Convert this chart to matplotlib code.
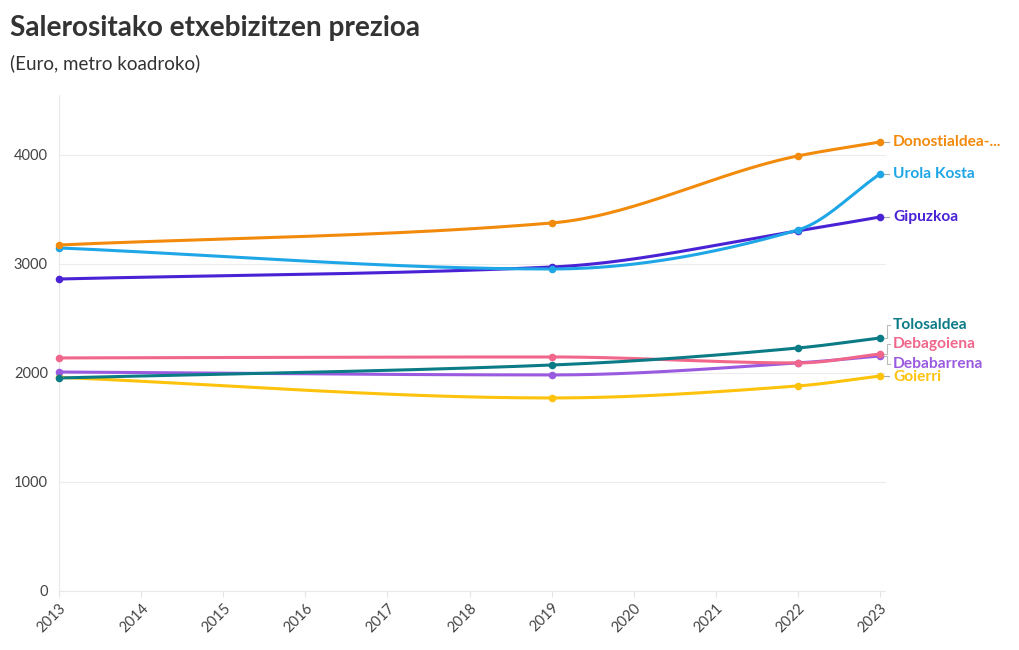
import numpy as np
import matplotlib.pyplot as plt

plt.rcParams['font.family'] = ['Lato', 'DejaVu Sans']

years = [2013, 2019, 2022, 2023]
series_names = ["Donostialdea-...", "Urola Kosta", "Gipuzkoa", "Tolosaldea",
                "Debagoiena", "Debabarrena", "Goierri"]
donostialdea = [3174, 3376, 3991, 4119]
urola_kosta = [3147, 2954, 3312, 3826]
gipuzkoa = [2862, 2972, 3303, 3431]
tolosaldea = [1954, 2073, 2229, 2321]
debagoiena = [2138, 2147, 2092, 2174]
debabarrena = [2009, 1982, 2092, 2156]
goierri = [1960, 1771, 1881, 1972]
colors = ["#f28a0c", "#1fa6e6", "#4a22d6", "#0b7b86", "#f0678b", "#9a5ae0", "#fdc20b"]
label_y = [4119, 3826, 3431, 2440, 2266, 2083, 1963]


def monotone(x, y, n=200):
    # Fritsch-Carlson monotone cubic, only for drawing a smooth path
    x = np.asarray(x, float)
    y = np.asarray(y, float)
    h = np.diff(x)
    d = np.diff(y) / h
    m = np.zeros_like(y)
    m[0], m[-1] = d[0], d[-1]
    for i in range(1, len(y) - 1):
        if d[i - 1] * d[i] <= 0:
            m[i] = 0
        else:
            w1 = 2 * h[i] + h[i - 1]
            w2 = h[i] + 2 * h[i - 1]
            m[i] = (w1 + w2) / (w1 / d[i - 1] + w2 / d[i])
    xs = np.linspace(x[0], x[-1], n)
    ys = np.empty_like(xs)
    for j, xv in enumerate(xs):
        i = min(np.searchsorted(x, xv, side='right') - 1, len(x) - 2)
        t = (xv - x[i]) / h[i]
        h00 = 2 * t**3 - 3 * t**2 + 1
        h10 = t**3 - 2 * t**2 + t
        h01 = -2 * t**3 + 3 * t**2
        h11 = t**3 - t**2
        ys[j] = h00 * y[i] + h10 * h[i] * m[i] + h01 * y[i + 1] + h11 * h[i] * m[i + 1]
    return xs, ys


fig = plt.figure(figsize=(10.2, 6.5), dpi=100)
ax = fig.add_axes([59 / 1020, 59 / 650, (880 - 59) / 1020, (591 - 95) / 650])

data = [donostialdea, urola_kosta, gipuzkoa, tolosaldea, debagoiena, debabarrena, goierri]
order = [6, 5, 4, 3, 2, 1, 0]
for i in order:
    xs, ys = monotone(years, data[i])
    ax.plot(xs, ys, color=colors[i], lw=2.2, zorder=3 + (7 - i) * 0.1,
            solid_capstyle='round', clip_on=False)
    ax.scatter(years, data[i], s=30, color=colors[i], zorder=4, linewidths=0, clip_on=False)

ax.set_xlim(2013, 2023)
ax.set_ylim(0, 4550)
ax.set_yticks([0, 1000, 2000, 3000, 4000])
ax.set_xticks(range(2013, 2024))
ax.set_xticklabels([str(y) for y in range(2013, 2024)], rotation=45, ha='right',
                   rotation_mode='anchor', fontsize=10.5, color='#444444')
for lab in ax.get_yticklabels():
    lab.set_fontsize(10.5)
    lab.set_color('#444444')
ax.tick_params(axis='y', length=0, pad=8)
ax.tick_params(axis='x', length=4, color='#e4e4e4', pad=3)
for s in ax.spines.values():
    s.set_visible(False)
ax.spines['left'].set_visible(True)
ax.spines['left'].set_color('#e8e8e8')
ax.spines['bottom'].set_visible(True)
ax.spines['bottom'].set_color('#e8e8e8')
ax.spines['bottom'].set_bounds(2013, 2023.06)
for gy in [1000, 2000, 3000, 4000]:
    ax.plot([2013, 2023.06], [gy, gy], color='#ececec', lw=0.8, zorder=1, clip_on=False)

# end labels
for i, name in enumerate(series_names):
    y0 = data[i][-1]
    ly = label_y[i]
    if abs(ly - y0) < 15:
        ax.plot([2023.05, 2023.11], [y0, y0], color='#aaaaaa', lw=0.8, clip_on=False)
    else:
        ax.plot([2023.05, 2023.09, 2023.09, 2023.12], [y0, y0, ly, ly], color='#bbbbbb',
                lw=0.8, clip_on=False)
    ax.text(2023.16, ly, name, color=colors[i], fontsize=11.2, fontweight='bold',
            va='center', ha='left', clip_on=False)

fig.text(10 / 1020, 1 - 28 / 650, "Salerositako etxebizitzen prezioa", fontsize=20.2,
         fontweight='bold', color='#333333', va='center')
fig.text(10 / 1020, 1 - 63 / 650, "(Euro, metro koadroko)", fontsize=13.5,
         color='#333333', va='center')

fig.savefig('out.png', dpi=100)
